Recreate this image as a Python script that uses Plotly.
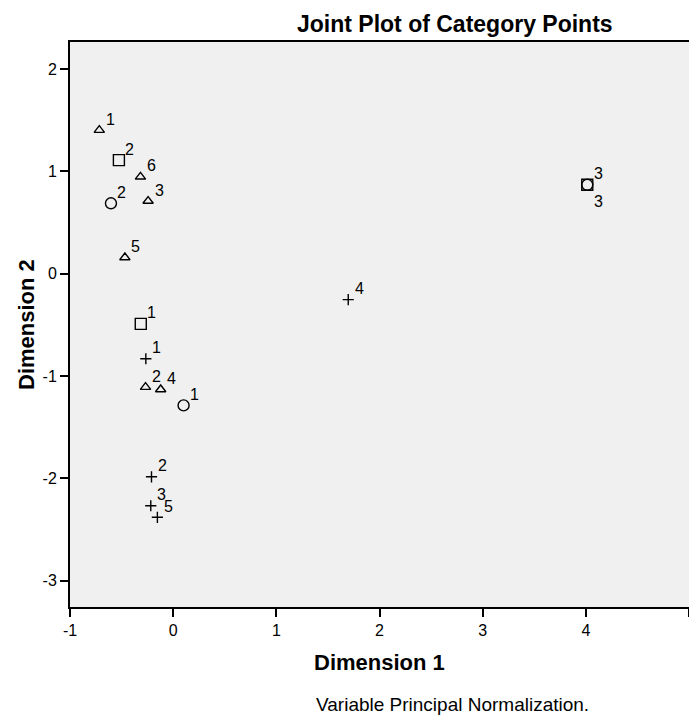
import plotly.graph_objects as go

# ---- data ----
tri_labels = ["1", "2", "3", "4", "5", "6"]
tri_x = [-0.716, -0.268, -0.243, -0.121, -0.468, -0.317]
tri_y = [1.404, -1.108, 0.711, -1.131, 0.159, 0.948]

sq_labels = ["1", "2", "3"]
sq_x = [-0.314, -0.526, 4.014]
sq_y = [-0.490, 1.111, 0.870]

circ_labels = ["1", "2", "3"]
circ_x = [0.101, -0.603, 4.014]
circ_y = [-1.287, 0.689, 0.870]

plus_labels = ["1", "2", "3", "4", "5"]
plus_x = [-0.265, -0.210, -0.217, 1.697, -0.153]
plus_y = [-0.831, -1.985, -2.268, -0.253, -2.381]

x_ticks = [-1, 0, 1, 2, 3, 4, 5]
x_tick_text = ["-1", "0", "1", "2", "3", "4", "5"]
y_ticks = [-3, -2, -1, 0, 1, 2]
y_tick_text = ["-3", "-2", "-1", "0", "1", "2"]

# label placement (style): "up" = upper right, "down" = lower right
tri_pos = ["up"] * 6
sq_pos = ["up"] * 3
circ_pos = ["up", "up", "down"]
plus_pos = ["up"] * 5

FONT = "Liberation Sans, Arial, sans-serif"

series = [
    ("triangle", tri_x, tri_y, tri_labels, tri_pos, "triangle-up-open", 9),
    ("square", sq_x, sq_y, sq_labels, sq_pos, "square-open", 11),
    ("circle", circ_x, circ_y, circ_labels, circ_pos, "circle-open", 11),
    ("cross", plus_x, plus_y, plus_labels, plus_pos, "cross-thin-open", 8),
]

fig = go.Figure()
annotations = []
for name, xs, ys, labs, poss, sym, size in series:
    fig.add_trace(go.Scatter(
        x=xs, y=ys, mode="markers", name=name, showlegend=False,
        marker=dict(symbol=sym, size=size, color="black",
                    line=dict(color="black", width=1.4)),
        hoverinfo="x+y",
    ))
    for xv, yv, lab, p in zip(xs, ys, labs, poss):
        annotations.append(dict(
            x=xv, y=yv, xref="x", yref="y", text=lab, showarrow=False,
            xanchor="center", yanchor="middle",
            xshift=11, yshift=11 if p == "up" else -17,
            font=dict(family=FONT, size=16, color="black"),
        ))

W, H = 689, 717
L, T, B = 70, 42, 110
PH = H - T - B
PW = W - L

def px_to_paper_x(px):
    return (px - L) / PW

def px_to_paper_y(py):
    return (H - B - py) / PH

annotations += [
    dict(text="<b>Joint Plot of Category Points</b>", xref="paper", yref="paper",
         x=px_to_paper_x(455), y=px_to_paper_y(24), showarrow=False,
         xanchor="center", yanchor="middle",
         font=dict(family=FONT, size=23, color="black")),
    dict(text="<b>Dimension 1</b>", xref="paper", yref="paper",
         x=px_to_paper_x(379), y=px_to_paper_y(663), showarrow=False,
         xanchor="center", yanchor="middle",
         font=dict(family=FONT, size=22, color="black")),
    dict(text="<b>Dimension 2</b>", xref="paper", yref="paper",
         x=px_to_paper_x(26), y=px_to_paper_y(324), showarrow=False, textangle=-90,
         xanchor="center", yanchor="middle",
         font=dict(family=FONT, size=22, color="black")),
    dict(text="Variable Principal Normalization.", xref="paper", yref="paper",
         x=px_to_paper_x(452), y=px_to_paper_y(704), showarrow=False,
         xanchor="center", yanchor="middle",
         font=dict(family=FONT, size=19, color="black")),
]

fig.update_layout(
    width=W, height=H,
    margin=dict(l=L, r=0, t=T, b=B, pad=0),
    paper_bgcolor="white",
    plot_bgcolor="#f0f0f0",
    showlegend=False,
    annotations=annotations,
    font=dict(family=FONT, size=16, color="black"),
)
fig.update_xaxes(
    range=[-1, 5], tickvals=x_ticks, ticktext=x_tick_text, ticks="outside",
    ticklen=8, tickwidth=2,
    tickcolor="black", showline=True, linewidth=2, linecolor="black", mirror=True,
    showgrid=False, zeroline=False, tickfont=dict(family=FONT, size=16),
)
fig.update_yaxes(
    range=[-3.258, 2.266], tickvals=y_ticks, ticktext=y_tick_text, ticks="outside",
    ticklen=8, tickwidth=2,
    tickcolor="black", showline=True, linewidth=2, linecolor="black",
    showgrid=False, zeroline=False, tickfont=dict(family=FONT, size=16),
)

fig.write_html(
    "out.html",
    config={"displayModeBar": False},
    post_script="document.body.style.margin='0';document.body.style.overflow='hidden';",
)
